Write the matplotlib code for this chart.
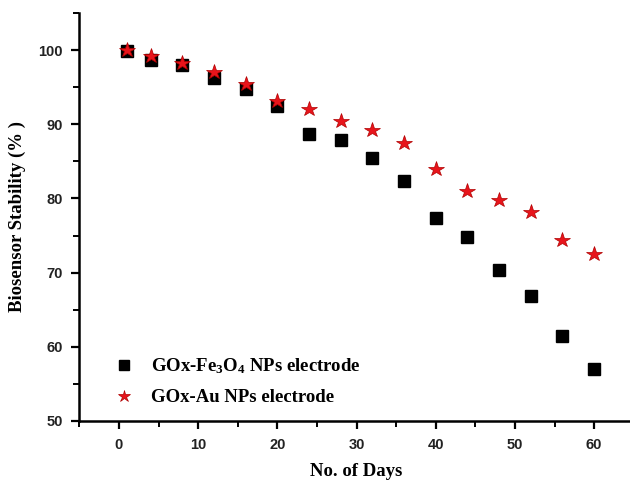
import numpy as np
import matplotlib
matplotlib.use('Agg')
import matplotlib.pyplot as plt
from matplotlib.ticker import MultipleLocator

# stability data
days = [1, 4, 8, 12, 16, 20, 24, 28, 32, 36, 40, 44, 48, 52, 56, 60]
fe3o4 = [99.9, 98.7, 98.0, 96.3, 94.8, 92.5, 88.7, 87.9, 85.5, 82.4, 77.3, 74.8, 70.4, 66.9, 61.5, 57.0]
au = [100.0, 99.2, 98.3, 97.0, 95.4, 93.1, 92.0, 90.4, 89.2, 87.5, 84.0, 81.0, 79.8, 78.2, 74.4, 72.5]

plt.rcParams['mathtext.fontset'] = 'custom'
plt.rcParams['mathtext.rm'] = 'Liberation Serif:bold'
plt.rcParams['mathtext.it'] = 'Liberation Serif:bold'

fig = plt.figure(figsize=(6.3, 4.82), dpi=100)
ax = fig.add_axes([0.126, 0.1266, 0.880, 0.8464])

ax.plot(days, fe3o4, linestyle='none', marker='s', markersize=9, color='black',
        label=r'GOx-Fe$_3$O$_4$ NPs electrode')
ax.plot(days, au, linestyle='none', marker='*', markersize=11.5, color='#e8141b',
        markeredgecolor='#b00000', markeredgewidth=0.5, label='GOx-Au NPs electrode')

ax.set_xlim(-5, 65)
ax.set_ylim(50, 105)
ax.xaxis.set_major_locator(MultipleLocator(10))
ax.xaxis.set_minor_locator(MultipleLocator(5))
ax.yaxis.set_major_locator(MultipleLocator(10))
ax.yaxis.set_minor_locator(MultipleLocator(5))

for s in ['top', 'right']:
    ax.spines[s].set_visible(False)
for s in ['left', 'bottom']:
    ax.spines[s].set_linewidth(1.8)

ax.tick_params(which='major', direction='out', length=6, width=1.6, labelsize=10.5, pad=6)
ax.tick_params(which='minor', direction='out', length=4, width=1.4)
for lab in ax.get_xticklabels() + ax.get_yticklabels():
    lab.set_fontfamily('Liberation Sans')
    lab.set_fontweight('bold')
    lab.set_color('#222222')

ax.set_xlabel('No. of Days', fontfamily='Liberation Serif', fontweight='bold', fontsize=13.5, labelpad=8)
ax.set_ylabel('Biosensor Stability (% )', fontfamily='Liberation Serif', fontweight='bold', fontsize=13.5, labelpad=9)

leg = ax.legend(loc='lower left', bbox_to_anchor=(0.016, -0.005), frameon=False,
                prop={'family': 'Liberation Serif', 'weight': 'bold', 'size': 13.5},
                handletextpad=0.45, labelspacing=0.7, numpoints=1, markerscale=0.8)

fig.savefig('out.png', dpi=100)
